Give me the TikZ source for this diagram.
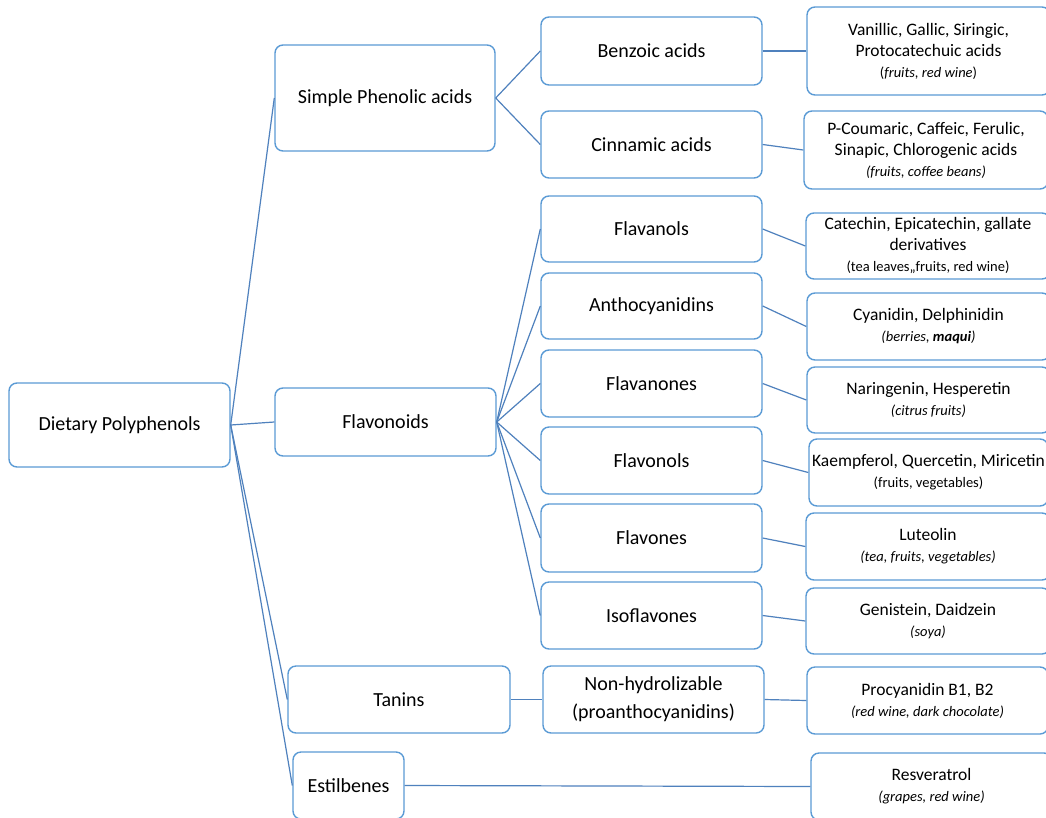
\documentclass[tikz,border=0pt]{standalone}
\usepackage{fontspec}
\setmainfont{Carlito}
\definecolor{boxblue}{HTML}{5B9BD5}
\definecolor{lineblue}{HTML}{4F81BD}
\newcommand\srcit[1]{{\fontsize{14.5}{21}\selectfont\itshape #1}}
\newcommand\srcup[1]{{\fontsize{14.5}{21}\selectfont #1}}
\begin{document}
\begin{tikzpicture}[x=1pt,y=-1pt,
  box/.style={draw=boxblue, line width=1.4pt, rounded corners=8pt, fill=white,
    inner sep=0pt, align=center, text=black},
  midbox/.style={box, font=\fontsize{20}{25}\selectfont},
  leafbox/.style={box, font=\fontsize{17.5}{21}\selectfont},
  link/.style={draw=lineblue, line width=1.2pt},
]
\useasboundingbox (0,0) rectangle (1046,817);
\clip (0,0) rectangle (1046,817);
\fill[white] (0,0) rectangle (1046,817);

% level 0
\node[midbox, minimum width=221, minimum height=84] (dp) at (119.5,425) {Dietary Polyphenols};
% level 1
\node[midbox, minimum width=220, minimum height=106] (spa) at (385,98) {Simple Phenolic acids};
\node[midbox, minimum width=221, minimum height=68] (fla) at (385.5,422) {Flavonoids};
\node[midbox, minimum width=222, minimum height=67] (tan) at (399,699.5) {Tanins};
\node[midbox, minimum width=111, minimum height=67] (est) at (348.5,785.5) {Estilbenes};
% level 2
\node[midbox, minimum width=221, minimum height=68] (benz) at (651.5,51) {Benzoic acids};
\node[midbox, minimum width=221, minimum height=67] (cinn) at (651.5,144.5) {Cinnamic acids};
\node[midbox, minimum width=221, minimum height=66] (fnol) at (651.5,229) {Flavanols};
\node[midbox, minimum width=221, minimum height=66] (anth) at (651.5,306) {Anthocyanidins};
\node[midbox, minimum width=221, minimum height=67] (fnon) at (651.5,383.5) {Flavanones};
\node[midbox, minimum width=221, minimum height=67] (flol) at (651.5,460.5) {Flavonols};
\node[midbox, minimum width=221, minimum height=68] (flon) at (651.5,538) {Flavones};
\node[midbox, minimum width=221, minimum height=67] (iso) at (651.5,615.5) {Isoflavones};
\node[midbox, minimum width=221, minimum height=67] (nonh) at (653.5,699.5) {Non-hydrolizable\\[3pt](proanthocyanidins)};
% level 3
\node[leafbox, minimum width=243, minimum height=88] (r1) at (928.5,51) {Vanillic, Gallic, Siringic,\\Protocatechuic acids\\\srcup{(}\srcit{fruits, red wine}\srcup{)}};
\node[leafbox, minimum width=244, minimum height=78] (r2) at (926,150) {P-Coumaric, Caffeic, Ferulic,\\Sinapic, Chlorogenic acids\\\srcit{(fruits, coffee beans)}};
\node[leafbox, minimum width=244, minimum height=66] (r3) at (928,246) {Catechin, Epicatechin, gallate\\derivatives\\\srcup{(tea leaves,,fruits, red wine)}};
\node[leafbox, minimum width=243, minimum height=67] (r4) at (928.5,326.5) {Cyanidin, Delphinidin\\\srcit{(berries, \textbf{maqui})}};
\node[leafbox, minimum width=243, minimum height=66] (r5) at (928.5,400) {Naringenin, Hesperetin\\\srcit{(citrus fruits)}};
\node[leafbox, minimum width=239, minimum height=67] (r6) at (928.5,472.5) {Kaempferol, Quercetin, Miricetin\\\srcup{(fruits, vegetables)}};
\node[leafbox, minimum width=244, minimum height=67] (r7) at (928,546.5) {Luteolin\\\srcit{(tea, fruits, vegetables)}};
\node[leafbox, minimum width=244, minimum height=66] (r8) at (928,621) {Genistein, Daidzein\\\srcit{(soya)}};
\node[leafbox, minimum width=241, minimum height=67] (r9) at (927.5,700.5) {Procyanidin B1, B2\\\srcit{(red wine, dark chocolate)}};
\node[leafbox, minimum width=241, minimum height=67] (r10) at (931.5,786.5) {Resveratrol\\\srcit{(grapes, red wine)}};

% connectors
\foreach \t in {spa,fla,tan,est} \draw[link] (dp.east) -- (\t.west);
\foreach \t in {benz,cinn} \draw[link] (spa.east) -- (\t.west);
\foreach \t in {fnol,anth,fnon,flol,flon,iso} \draw[link] (fla.east) -- (\t.west);
\draw[link] (tan.east) -- (nonh.west);
\draw[link] (benz.east) -- (r1.west);
\draw[link] (cinn.east) -- (r2.west);
\draw[link] (fnol.east) -- (r3.west);
\draw[link] (anth.east) -- (r4.west);
\draw[link] (fnon.east) -- (r5.west);
\draw[link] (flol.east) -- (r6.west);
\draw[link] (flon.east) -- (r7.west);
\draw[link] (iso.east) -- (r8.west);
\draw[link] (nonh.east) -- (r9.west);
\draw[link] (est.east) -- (r10.west);
\end{tikzpicture}
\end{document}
